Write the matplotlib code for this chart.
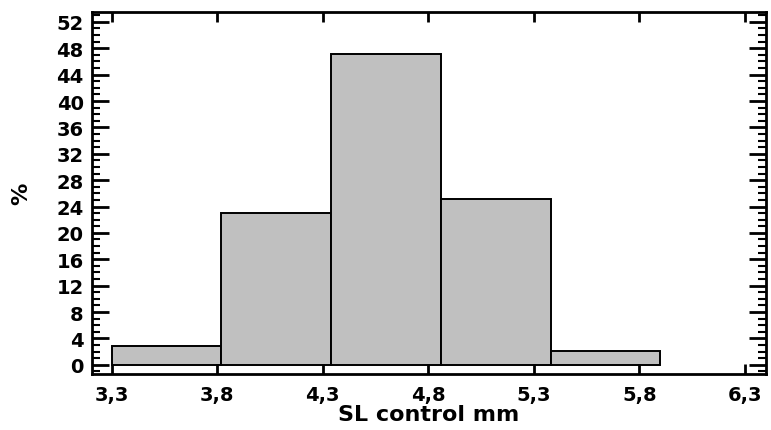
import matplotlib.pyplot as plt
from matplotlib.ticker import MultipleLocator, FuncFormatter

# bin edges (mm) and percentages
bin_left = [3.30, 3.82, 4.34, 4.86, 5.38]
bin_width = 0.52
percent = [2.9, 23.0, 47.2, 25.1, 2.1]

x_ticks = [3.3, 3.8, 4.3, 4.8, 5.3, 5.8, 6.3]
y_ticks = list(range(0, 53, 4))

plt.rcParams['font.family'] = ['DejaVu Sans']
plt.rcParams['font.weight'] = 'bold'

fig = plt.figure(figsize=(7.71, 4.31), dpi=100)
ax = fig.add_axes([92 / 771, 1 - 375 / 431, (766 - 92) / 771, (375 - 13) / 431])

ax.bar(bin_left, percent, width=bin_width, align='edge',
       color='#c0c0c0', edgecolor='black', linewidth=1.4)

ax.set_xlim(3.207, 6.40)
ax.set_ylim(-1.4, 53.5)

ax.set_xticks(x_ticks)
ax.set_yticks(y_ticks)
ax.yaxis.set_minor_locator(MultipleLocator(1))

comma = FuncFormatter(lambda v, p: f"{v:.1f}".replace('.', ','))
ax.xaxis.set_major_formatter(comma)

ax.tick_params(axis='x', which='major', direction='in', length=7, width=2,
               top=True, labelsize=14, pad=8)
ax.tick_params(axis='y', which='major', direction='in', length=12, width=2,
               right=True, labelsize=14, pad=6)
ax.tick_params(axis='y', which='minor', direction='in', length=6, width=1.5,
               right=True)

for s in ax.spines.values():
    s.set_linewidth(2)

ax.set_xlabel('SL control mm', fontsize=16, fontweight='bold', labelpad=0)
ax.set_ylabel('%', fontsize=16, fontweight='bold', labelpad=18)

fig.savefig('out.png', dpi=100)
